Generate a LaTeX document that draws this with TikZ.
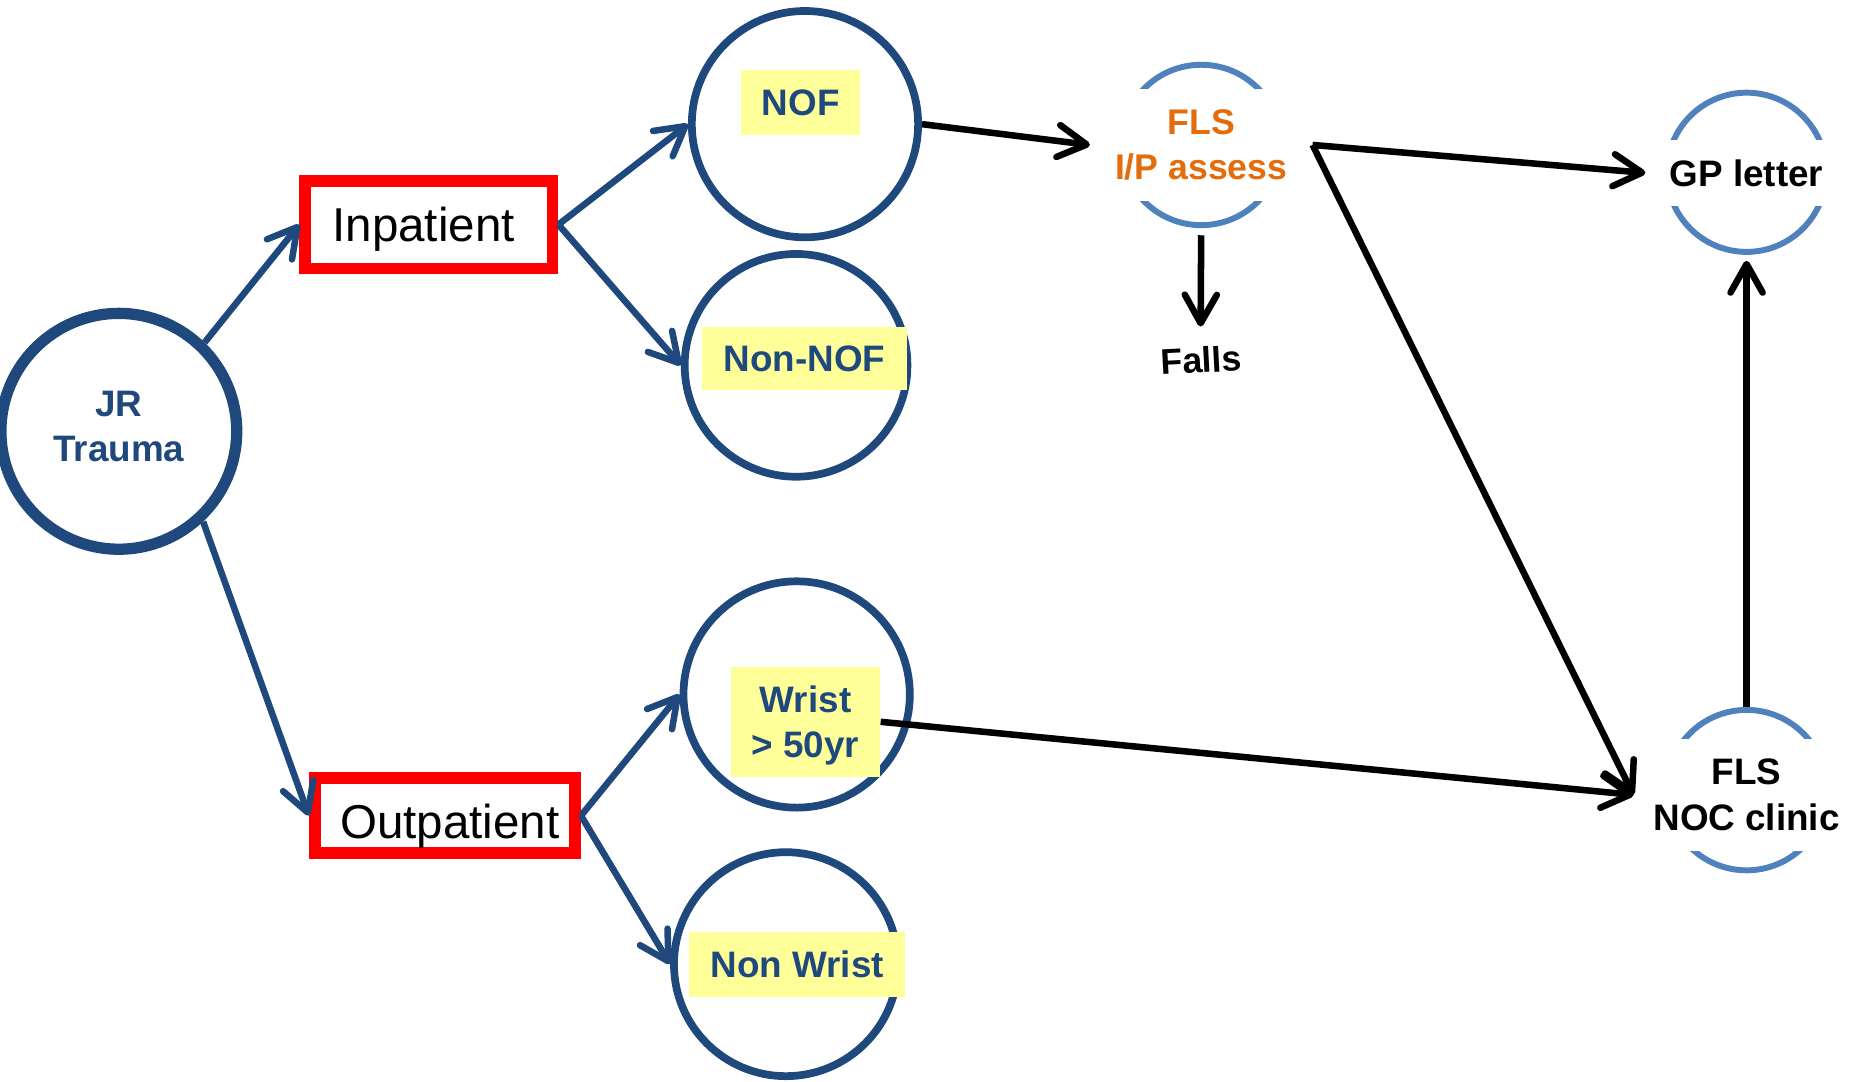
\documentclass[tikz,border=0pt]{standalone}
\usepackage{fontspec}
\setmainfont{Liberation Sans}
\usetikzlibrary{arrows.meta}
\definecolor{navy}{RGB}{31,73,125}
\definecolor{ringblue}{RGB}{79,129,189}
\definecolor{flsorange}{RGB}{228,108,10}
\definecolor{lblyellow}{RGB}{255,255,153}
\begin{document}
\begin{tikzpicture}[x=1pt,y=-1pt,
  bigfont/.style={font=\fontsize{31}{38}\selectfont\bfseries},
  navyring/.style={circle, draw=navy, line width=6.5pt, inner sep=0pt},
  lring/.style={circle, draw=ringblue, line width=5pt, inner sep=0pt},
  wbox/.style={fill=white, inner sep=0pt, align=center, bigfont},
  ylabel/.style={fill=lblyellow, inner sep=0pt, align=center, text=navy, text depth=0pt, bigfont},
  redbox/.style={draw=red, line width=10pt, inner sep=0pt, text depth=0pt, font=\fontsize{40}{48}\selectfont},
  bluearrow/.style={draw=navy, line width=5.5pt, -{Straight Barb[length=24pt,width=27pt,round]}},
  blackarrow/.style={draw=black, line width=5.5pt, -{Straight Barb[length=24pt,width=27pt,round]}},
]
\useasboundingbox (0,0) rectangle (1568,910);

% navy circles
\node[navyring, line width=9.5pt, minimum size=198.5pt, text=navy, align=center, text depth=8pt, bigfont] (jr) at (100,363) {JR\\Trauma};
\node[navyring, minimum size=190.5pt] (nofc) at (677.5,104.5) {};
\node[navyring, minimum size=187.5pt] (nonnofc) at (670,307.5) {};
\node[navyring, minimum size=190.5pt] (wristc) at (670.5,584.5) {};
\node[navyring, minimum size=188.5pt] (nonwristc) at (661.5,811.5) {};

% yellow labels
\node[ylabel, minimum width=100pt, minimum height=55pt] (nofl) at (674,86.5) {NOF};
\node[ylabel, minimum width=172pt, minimum height=53pt] (nonnofl) at (677,301.5) {Non-NOF};
\node[ylabel, minimum width=126pt, minimum height=93pt] (wristl) at (678,607.5) {Wrist\\> 50yr};
\node[ylabel, minimum width=182pt, minimum height=55pt] (nonwristl) at (671,811.5) {Non Wrist};

% red boxes
\node[redbox, minimum width=208pt, minimum height=74pt] (inp) at (361,189) {Inpatient\hspace*{9pt}};
\node[redbox, minimum width=219pt, minimum height=63pt, text height=39pt] (outp) at (374.5,686.5) {\hspace*{8pt}Outpatient};

% light rings with white text boxes
\node[lring, minimum size=135pt] (ipc) at (1011,122) {};
\node[wbox, text=flsorange, minimum width=187pt, minimum height=94pt, font=\fontsize{30}{38}\selectfont\bfseries] (ip) at (1011,122) {FLS\\I/P assess};
\node[lring, minimum size=134pt] (gpc) at (1470,145) {};
\node[wbox, minimum width=170pt, minimum height=55pt] (gp) at (1470,145.5) {GP letter};
\node[lring, minimum size=135pt] (nocc) at (1470,665) {};
\node[wbox, minimum width=190pt, minimum height=94pt] (noc) at (1470,669) {FLS\\NOC clinic};

\node[inner sep=0pt, rotate=3, font=\fontsize{30}{36}\selectfont\bfseries] (falls) at (1011,303) {Falls};

% blue connectors
\draw[bluearrow] (jr.46) -- (inp.west);
\draw[bluearrow] (jr.-47) -- (outp.west);
\draw[bluearrow] (inp.east) -- (nofc.west);
\draw[bluearrow] (inp.east) -- (nonnofc.west);
\draw[bluearrow] (outp.east) -- (wristc.west);
\draw[bluearrow] (outp.east) -- (nonwristc.west);

% black connectors
\draw[blackarrow] (nofc.east) -- (ip.west);
\draw[blackarrow, shorten <=6pt, shorten >=17pt] (ipc.south) -- (falls.north);
\draw[blackarrow] (ip.east) -- (gp.west);
\draw[blackarrow] (ip.east) -- (noc.west);
\draw[blackarrow] (wristl.east) -- (noc.west);
\draw[blackarrow, shorten >=5pt] (nocc.north) -- (gpc.south);
\end{tikzpicture}
\end{document}
